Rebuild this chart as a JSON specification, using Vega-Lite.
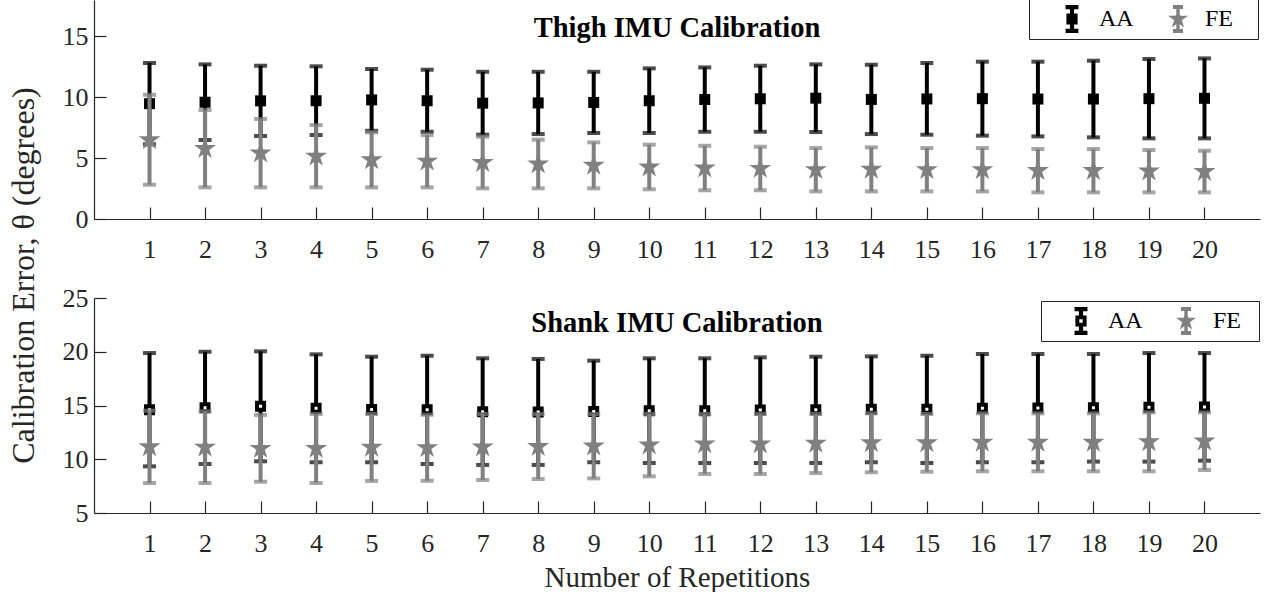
{
  "$schema": "https://vega.github.io/schema/vega-lite/v6.json",
  "background": "white",
  "padding": {"left": 6, "top": -2, "right": 4, "bottom": 0},
  "datasets": {
    "thigh": [
      {"rep": 1, "metric": "AA", "lo": 6.14, "mean": 9.48, "hi": 12.82},
      {"rep": 2, "metric": "AA", "lo": 6.49, "mean": 9.60, "hi": 12.71},
      {"rep": 3, "metric": "AA", "lo": 6.82, "mean": 9.71, "hi": 12.60},
      {"rep": 4, "metric": "AA", "lo": 6.90, "mean": 9.72, "hi": 12.55},
      {"rep": 5, "metric": "AA", "lo": 7.25, "mean": 9.79, "hi": 12.33},
      {"rep": 6, "metric": "AA", "lo": 7.17, "mean": 9.72, "hi": 12.27},
      {"rep": 7, "metric": "AA", "lo": 6.93, "mean": 9.52, "hi": 12.10},
      {"rep": 8, "metric": "AA", "lo": 6.98, "mean": 9.54, "hi": 12.10},
      {"rep": 9, "metric": "AA", "lo": 7.07, "mean": 9.58, "hi": 12.10},
      {"rep": 10, "metric": "AA", "lo": 7.07, "mean": 9.72, "hi": 12.38},
      {"rep": 11, "metric": "AA", "lo": 7.17, "mean": 9.82, "hi": 12.46},
      {"rep": 12, "metric": "AA", "lo": 7.17, "mean": 9.88, "hi": 12.60},
      {"rep": 13, "metric": "AA", "lo": 7.15, "mean": 9.93, "hi": 12.71},
      {"rep": 14, "metric": "AA", "lo": 6.98, "mean": 9.83, "hi": 12.68},
      {"rep": 15, "metric": "AA", "lo": 6.93, "mean": 9.87, "hi": 12.82},
      {"rep": 16, "metric": "AA", "lo": 6.85, "mean": 9.89, "hi": 12.93},
      {"rep": 17, "metric": "AA", "lo": 6.79, "mean": 9.86, "hi": 12.93},
      {"rep": 18, "metric": "AA", "lo": 6.71, "mean": 9.86, "hi": 13.01},
      {"rep": 19, "metric": "AA", "lo": 6.63, "mean": 9.89, "hi": 13.15},
      {"rep": 20, "metric": "AA", "lo": 6.63, "mean": 9.92, "hi": 13.20},
      {"rep": 1, "metric": "FE", "lo": 2.82, "mean": 6.50, "hi": 10.21},
      {"rep": 2, "metric": "FE", "lo": 2.60, "mean": 5.78, "hi": 8.96},
      {"rep": 3, "metric": "FE", "lo": 2.60, "mean": 5.41, "hi": 8.22},
      {"rep": 4, "metric": "FE", "lo": 2.60, "mean": 5.16, "hi": 7.72},
      {"rep": 5, "metric": "FE", "lo": 2.60, "mean": 4.86, "hi": 7.12},
      {"rep": 6, "metric": "FE", "lo": 2.60, "mean": 4.75, "hi": 6.90},
      {"rep": 7, "metric": "FE", "lo": 2.52, "mean": 4.64, "hi": 6.76},
      {"rep": 8, "metric": "FE", "lo": 2.52, "mean": 4.52, "hi": 6.52},
      {"rep": 9, "metric": "FE", "lo": 2.52, "mean": 4.41, "hi": 6.30},
      {"rep": 10, "metric": "FE", "lo": 2.44, "mean": 4.27, "hi": 6.11},
      {"rep": 11, "metric": "FE", "lo": 2.36, "mean": 4.19, "hi": 6.02},
      {"rep": 12, "metric": "FE", "lo": 2.36, "mean": 4.15, "hi": 5.94},
      {"rep": 13, "metric": "FE", "lo": 2.27, "mean": 4.05, "hi": 5.83},
      {"rep": 14, "metric": "FE", "lo": 2.27, "mean": 4.08, "hi": 5.89},
      {"rep": 15, "metric": "FE", "lo": 2.27, "mean": 4.05, "hi": 5.83},
      {"rep": 16, "metric": "FE", "lo": 2.27, "mean": 4.05, "hi": 5.83},
      {"rep": 17, "metric": "FE", "lo": 2.19, "mean": 3.97, "hi": 5.75},
      {"rep": 18, "metric": "FE", "lo": 2.19, "mean": 3.97, "hi": 5.75},
      {"rep": 19, "metric": "FE", "lo": 2.19, "mean": 3.93, "hi": 5.67},
      {"rep": 20, "metric": "FE", "lo": 2.19, "mean": 3.90, "hi": 5.61}
    ],
    "shank": [
      {"rep": 1, "metric": "AA", "lo": 9.34, "mean": 14.61, "hi": 19.88},
      {"rep": 2, "metric": "AA", "lo": 9.56, "mean": 14.78, "hi": 20.00},
      {"rep": 3, "metric": "AA", "lo": 9.81, "mean": 14.93, "hi": 20.04},
      {"rep": 4, "metric": "AA", "lo": 9.72, "mean": 14.74, "hi": 19.76},
      {"rep": 5, "metric": "AA", "lo": 9.72, "mean": 14.63, "hi": 19.54},
      {"rep": 6, "metric": "AA", "lo": 9.56, "mean": 14.60, "hi": 19.63},
      {"rep": 7, "metric": "AA", "lo": 9.47, "mean": 14.43, "hi": 19.39},
      {"rep": 8, "metric": "AA", "lo": 9.47, "mean": 14.40, "hi": 19.33},
      {"rep": 9, "metric": "AA", "lo": 9.72, "mean": 14.45, "hi": 19.17},
      {"rep": 10, "metric": "AA", "lo": 9.65, "mean": 14.52, "hi": 19.39},
      {"rep": 11, "metric": "AA", "lo": 9.65, "mean": 14.52, "hi": 19.39},
      {"rep": 12, "metric": "AA", "lo": 9.65, "mean": 14.57, "hi": 19.48},
      {"rep": 13, "metric": "AA", "lo": 9.65, "mean": 14.60, "hi": 19.54},
      {"rep": 14, "metric": "AA", "lo": 9.72, "mean": 14.65, "hi": 19.57},
      {"rep": 15, "metric": "AA", "lo": 9.65, "mean": 14.64, "hi": 19.63},
      {"rep": 16, "metric": "AA", "lo": 9.72, "mean": 14.75, "hi": 19.79},
      {"rep": 17, "metric": "AA", "lo": 9.72, "mean": 14.76, "hi": 19.79},
      {"rep": 18, "metric": "AA", "lo": 9.78, "mean": 14.79, "hi": 19.79},
      {"rep": 19, "metric": "AA", "lo": 9.78, "mean": 14.83, "hi": 19.88},
      {"rep": 20, "metric": "AA", "lo": 9.87, "mean": 14.87, "hi": 19.88},
      {"rep": 1, "metric": "FE", "lo": 7.79, "mean": 11.15, "hi": 14.52},
      {"rep": 2, "metric": "FE", "lo": 7.79, "mean": 11.12, "hi": 14.46},
      {"rep": 3, "metric": "FE", "lo": 7.91, "mean": 11.00, "hi": 14.12},
      {"rep": 4, "metric": "FE", "lo": 7.79, "mean": 11.00, "hi": 14.21},
      {"rep": 5, "metric": "FE", "lo": 7.98, "mean": 11.10, "hi": 14.21},
      {"rep": 6, "metric": "FE", "lo": 8.00, "mean": 11.07, "hi": 14.14},
      {"rep": 7, "metric": "FE", "lo": 8.07, "mean": 11.14, "hi": 14.21},
      {"rep": 8, "metric": "FE", "lo": 8.16, "mean": 11.18, "hi": 14.21},
      {"rep": 9, "metric": "FE", "lo": 8.22, "mean": 11.22, "hi": 14.21},
      {"rep": 10, "metric": "FE", "lo": 8.41, "mean": 11.31, "hi": 14.21},
      {"rep": 11, "metric": "FE", "lo": 8.63, "mean": 11.42, "hi": 14.21},
      {"rep": 12, "metric": "FE", "lo": 8.63, "mean": 11.42, "hi": 14.21},
      {"rep": 13, "metric": "FE", "lo": 8.72, "mean": 11.47, "hi": 14.21},
      {"rep": 14, "metric": "FE", "lo": 8.79, "mean": 11.53, "hi": 14.27},
      {"rep": 15, "metric": "FE", "lo": 8.84, "mean": 11.52, "hi": 14.21},
      {"rep": 16, "metric": "FE", "lo": 8.88, "mean": 11.57, "hi": 14.27},
      {"rep": 17, "metric": "FE", "lo": 8.88, "mean": 11.57, "hi": 14.27},
      {"rep": 18, "metric": "FE", "lo": 8.88, "mean": 11.57, "hi": 14.27},
      {"rep": 19, "metric": "FE", "lo": 8.88, "mean": 11.62, "hi": 14.36},
      {"rep": 20, "metric": "FE", "lo": 9.00, "mean": 11.68, "hi": 14.36}
    ]
  },
  "spacing": 79,
  "bounds": "flush",
  "resolve": {
    "scale": {"color": "independent", "shape": "independent"},
    "legend": {"color": "independent", "shape": "independent"}
  },
  "vconcat": [
    {
      "data": {"name": "thigh"},
      "width": 1166,
      "height": 219,
      "encoding": {
        "x": {
          "field": "rep",
          "type": "quantitative",
          "scale": {"domain": [0, 21], "nice": false},
          "axis": {"values": [1, 2, 3, 4, 5, 6, 7, 8, 9, 10, 11, 12, 13, 14, 15, 16, 17, 18, 19, 20], "title": null, "labelFlush": false, "labelFont": "Liberation Serif"}
        }
      },
      "layer": [
        {
          "transform": [{"filter": "datum.metric === 'AA'"}],
          "mark": {"type": "errorbar", "ticks": true, "size": 13, "thickness": 4},
          "encoding": {
            "y": {"field": "lo", "type": "quantitative", "scale": {"domain": [0, 18], "nice": false},
                  "axis": {"values": [0, 5, 10, 15], "title": "Calibration Error, θ (degrees)", "titleX": -61, "titleY": 275, "titleAngle": -90, "titleAlign": "center", "titleBaseline": "alphabetic", "titleFontSize": 32, "titleFont": "Liberation Serif", "labelFont": "Liberation Serif"}},
            "y2": {"field": "hi"},
            "color": {"value": "#000000"}
          }
        },
        {
          "transform": [{"filter": "datum.metric === 'AA'"}],
          "mark": {"type": "point", "shape": "square", "filled": true, "size": 121, "color": "#000000", "opacity": 1, "strokeWidth": 0},
          "encoding": {
            "y": {"field": "mean", "type": "quantitative",
                  "axis": {"values": [0, 5, 10, 15], "title": "Calibration Error, θ (degrees)", "titleX": -61, "titleY": 275, "titleAngle": -90, "titleAlign": "center", "titleBaseline": "alphabetic", "titleFontSize": 32, "titleFont": "Liberation Serif", "labelFont": "Liberation Serif"}}
          }
        },
        {
          "transform": [{"filter": "datum.metric === 'FE'"}],
          "mark": {"type": "errorbar", "ticks": true, "size": 13, "thickness": 4},
          "encoding": {
            "y": {"field": "lo", "type": "quantitative",
                  "axis": {"values": [0, 5, 10, 15], "title": "Calibration Error, θ (degrees)", "titleX": -61, "titleY": 275, "titleAngle": -90, "titleAlign": "center", "titleBaseline": "alphabetic", "titleFontSize": 32, "titleFont": "Liberation Serif", "labelFont": "Liberation Serif"}},
            "y2": {"field": "hi"},
            "color": {"value": "#808080"}
          }
        },
        {
          "transform": [{"filter": "datum.metric === 'FE'"}],
          "mark": {"type": "point", "shape": "M0,-1L0.2245,-0.309L0.951,-0.309L0.363,0.118L0.588,0.809L0,0.382L-0.588,0.809L-0.363,0.118L-0.951,-0.309L-0.2245,-0.309Z", "filled": true, "size": 535, "color": "#808080", "opacity": 1, "strokeWidth": 0},
          "encoding": {
            "y": {"field": "mean", "type": "quantitative",
                  "axis": {"values": [0, 5, 10, 15], "title": "Calibration Error, θ (degrees)", "titleX": -61, "titleY": 275, "titleAngle": -90, "titleAlign": "center", "titleBaseline": "alphabetic", "titleFontSize": 32, "titleFont": "Liberation Serif", "labelFont": "Liberation Serif"}}
          }
        },
        {
          "transform": [{"filter": "datum.rep === 1 && datum.metric === 'AA'"}],
          "mark": {"type": "text", "font": "Liberation Serif", "fontSize": 28.5, "fontWeight": "bold", "align": "center", "baseline": "alphabetic", "color": "#000000", "opacity": 1},
          "encoding": {
            "x": {"datum": 10.5, "type": "quantitative"},
            "y": {"datum": 14.96, "type": "quantitative",
                  "axis": {"values": [0, 5, 10, 15], "title": "Calibration Error, θ (degrees)", "titleX": -61, "titleY": 275, "titleAngle": -90, "titleAlign": "center", "titleBaseline": "alphabetic", "titleFontSize": 32, "titleFont": "Liberation Serif", "labelFont": "Liberation Serif"}},
            "text": {"value": "Thigh IMU Calibration"}
          }
        },
        {
          "transform": [{"filter": "false"}],
          "mark": {"type": "point", "filled": true, "opacity": 1},
          "encoding": {
            "y": {"field": "mean", "type": "quantitative",
                  "axis": {"values": [0, 5, 10, 15], "title": "Calibration Error, θ (degrees)", "titleX": -61, "titleY": 275, "titleAngle": -90, "titleAlign": "center", "titleBaseline": "alphabetic", "titleFontSize": 32, "titleFont": "Liberation Serif", "labelFont": "Liberation Serif"}},
            "color": {
              "field": "metric",
              "type": "nominal",
              "scale": {"domain": ["AA", "FE"], "range": ["#000000", "#808080"]},
              "legend": {
                "title": "\u00a0", "titleOrient": "right", "titlePadding": 19, "titleFontSize": 24, "titleFont": "Liberation Serif",
                "orient": "none", "legendX": 935, "legendY": -1,
                "direction": "horizontal", "symbolSize": 784, "symbolStrokeWidth": 0,
                "symbolOffset": 23, "labelOffset": 13,
                "labelFont": "Liberation Serif", "labelFontSize": 24, "labelColor": "#000000",
                "columnPadding": 7, "padding": 6, "strokeColor": "#262626", "fillColor": "#ffffff"
              }
            },
            "shape": {
              "field": "metric",
              "type": "nominal",
              "scale": {
                "domain": ["AA", "FE"],
                "range": [
                  "M-0.46,-1H0.46V-0.7H-0.46Z M-0.15,-1H0.15V1H-0.15Z M-0.46,0.7H0.46V1H-0.46Z M-0.4,-0.4H0.4V0.4H-0.4Z",
                  "M-0.36,-1H0.36V-0.72H-0.36Z M-0.12,-1H0.12V1H-0.12Z M-0.36,0.72H0.36V1H-0.36Z M0,-0.75L0.168,-0.232L0.713,-0.232L0.272,0.089L0.441,0.607L0,0.287L-0.441,0.607L-0.272,0.089L-0.713,-0.232L-0.168,-0.232Z"
                ]
              },
              "legend": {
                "title": "\u00a0", "titleOrient": "right", "titlePadding": 19, "titleFontSize": 24, "titleFont": "Liberation Serif",
                "orient": "none", "legendX": 935, "legendY": -1,
                "direction": "horizontal", "symbolSize": 784, "symbolStrokeWidth": 0,
                "symbolOffset": 23, "labelOffset": 13,
                "labelFont": "Liberation Serif", "labelFontSize": 24, "labelColor": "#000000",
                "columnPadding": 7, "padding": 6, "strokeColor": "#262626", "fillColor": "#ffffff"
              }
            }
          }
        }
      ]
    },
    {
      "data": {"name": "shank"},
      "width": 1166,
      "height": 215,
      "encoding": {
        "x": {
          "field": "rep",
          "type": "quantitative",
          "scale": {"domain": [0, 21], "nice": false},
          "axis": {"values": [1, 2, 3, 4, 5, 6, 7, 8, 9, 10, 11, 12, 13, 14, 15, 16, 17, 18, 19, 20], "title": "Number of Repetitions", "labelFlush": false, "labelFont": "Liberation Serif", "titleFont": "Liberation Serif"}
        }
      },
      "layer": [
        {
          "transform": [{"filter": "datum.metric === 'AA'"}],
          "mark": {"type": "errorbar", "ticks": true, "size": 13, "thickness": 4},
          "encoding": {
            "y": {"field": "lo", "type": "quantitative", "scale": {"domain": [5, 25], "nice": false}, "axis": {"values": [5, 10, 15, 20, 25], "title": null, "labelFont": "Liberation Serif"}},
            "y2": {"field": "hi"},
            "color": {"value": "#000000"}
          }
        },
        {
          "transform": [{"filter": "datum.metric === 'AA'"}],
          "mark": {"type": "point", "shape": "square", "filled": false, "fill": "#ffffff", "size": 49, "stroke": "#000000", "strokeWidth": 4, "opacity": 1},
          "encoding": {
            "y": {"field": "mean", "type": "quantitative", "axis": {"values": [5, 10, 15, 20, 25], "title": null, "labelFont": "Liberation Serif"}}
          }
        },
        {
          "transform": [{"filter": "datum.metric === 'FE'"}],
          "mark": {"type": "errorbar", "ticks": true, "size": 13, "thickness": 4},
          "encoding": {
            "y": {"field": "lo", "type": "quantitative", "axis": {"values": [5, 10, 15, 20, 25], "title": null, "labelFont": "Liberation Serif"}},
            "y2": {"field": "hi"},
            "color": {"value": "#808080"}
          }
        },
        {
          "transform": [{"filter": "datum.metric === 'FE'"}],
          "mark": {"type": "point", "shape": "M0,-1L0.2245,-0.309L0.951,-0.309L0.363,0.118L0.588,0.809L0,0.382L-0.588,0.809L-0.363,0.118L-0.951,-0.309L-0.2245,-0.309Z", "filled": true, "size": 535, "color": "#808080", "opacity": 1, "strokeWidth": 0},
          "encoding": {
            "y": {"field": "mean", "type": "quantitative", "axis": {"values": [5, 10, 15, 20, 25], "title": null, "labelFont": "Liberation Serif"}}
          }
        },
        {
          "transform": [{"filter": "datum.rep === 1 && datum.metric === 'AA'"}],
          "mark": {"type": "text", "font": "Liberation Serif", "fontSize": 28.5, "fontWeight": "bold", "align": "center", "baseline": "alphabetic", "color": "#000000", "opacity": 1},
          "encoding": {
            "x": {"datum": 10.5, "type": "quantitative"},
            "y": {"datum": 21.84, "type": "quantitative", "axis": {"values": [5, 10, 15, 20, 25], "title": null, "labelFont": "Liberation Serif"}},
            "text": {"value": "Shank IMU Calibration"}
          }
        },
        {
          "transform": [{"filter": "false"}],
          "mark": {"type": "point", "filled": true, "opacity": 1},
          "encoding": {
            "y": {"field": "mean", "type": "quantitative", "axis": {"values": [5, 10, 15, 20, 25], "title": null, "labelFont": "Liberation Serif"}},
            "color": {
              "field": "metric",
              "type": "nominal",
              "scale": {"domain": ["AA", "FE"], "range": ["#000000", "#808080"]},
              "legend": {
                "title": "\u00a0", "titleOrient": "right", "titlePadding": 12, "titleFontSize": 24, "titleFont": "Liberation Serif",
                "orient": "none", "legendX": 947, "legendY": 3,
                "direction": "horizontal", "symbolSize": 784, "symbolStrokeWidth": 0,
                "symbolOffset": 20, "labelOffset": 13,
                "labelFont": "Liberation Serif", "labelFontSize": 24, "labelColor": "#000000",
                "columnPadding": 9, "padding": 6, "strokeColor": "#262626", "fillColor": "#ffffff"
              }
            },
            "shape": {
              "field": "metric",
              "type": "nominal",
              "scale": {
                "domain": ["AA", "FE"],
                "range": [
                  "M-0.46,-1H0.46V-0.7H-0.46Z M-0.15,-1H0.15V-0.4H-0.15Z M-0.15,0.4H0.15V1H-0.15Z M-0.46,0.7H0.46V1H-0.46Z M-0.4,-0.4H0.4V0.4H-0.4Z M-0.12,-0.12V0.12H0.12V-0.12Z",
                  "M-0.36,-1H0.36V-0.72H-0.36Z M-0.12,-1H0.12V1H-0.12Z M-0.36,0.72H0.36V1H-0.36Z M0,-0.75L0.168,-0.232L0.713,-0.232L0.272,0.089L0.441,0.607L0,0.287L-0.441,0.607L-0.272,0.089L-0.713,-0.232L-0.168,-0.232Z"
                ]
              },
              "legend": {
                "title": "\u00a0", "titleOrient": "right", "titlePadding": 12, "titleFontSize": 24, "titleFont": "Liberation Serif",
                "orient": "none", "legendX": 947, "legendY": 3,
                "direction": "horizontal", "symbolSize": 784, "symbolStrokeWidth": 0,
                "symbolOffset": 20, "labelOffset": 13,
                "labelFont": "Liberation Serif", "labelFontSize": 24, "labelColor": "#000000",
                "columnPadding": 9, "padding": 6, "strokeColor": "#262626", "fillColor": "#ffffff"
              }
            }
          }
        }
      ]
    }
  ],
  "config": {
    "font": "Liberation Serif",
    "view": {"stroke": null},
    "style": {
      "guide-label": {"font": "Liberation Serif"},
      "guide-title": {"font": "Liberation Serif"},
      "group-title": {"font": "Liberation Serif"}
    },
    "axis": {
      "grid": false,
      "domainColor": "#262626",
      "domainWidth": 1.2,
      "tickColor": "#262626",
      "tickWidth": 1.2,
      "tickSize": -12,
      "labelFont": "Liberation Serif",
      "labelFontSize": 26,
      "labelColor": "#262626",
      "titleFont": "Liberation Serif",
      "titleFontSize": 29,
      "titleFontWeight": "normal",
      "titleColor": "#262626"
    },
    "axisX": {"labelPadding": 29, "titlePadding": 7},
    "axisY": {"labelPadding": 18}
  }
}
